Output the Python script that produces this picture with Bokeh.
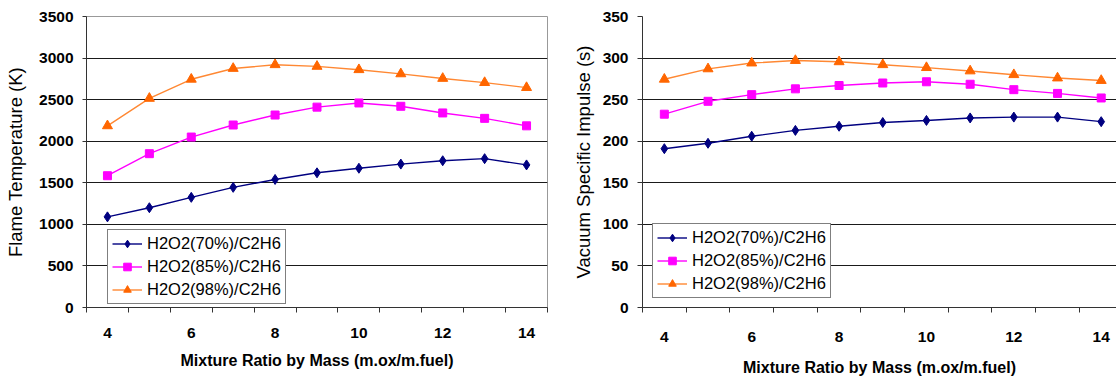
from bokeh.plotting import figure
from bokeh.layouts import row
from bokeh.models import FixedTicker, Range1d, Legend
from bokeh.embed import file_html
from bokeh.resources import INLINE

# ---- data ----
mixture_ratio = [4, 5, 6, 7, 8, 9, 10, 11, 12, 13, 14]
x_tick_labels = [4, 6, 8, 10, 12, 14]

series_names = ["H2O2(70%)/C2H6", "H2O2(85%)/C2H6", "H2O2(98%)/C2H6"]

flame_temp_70 = [1090, 1200, 1325, 1445, 1540, 1620, 1675, 1725, 1765, 1790, 1715]
flame_temp_85 = [1585, 1850, 2050, 2195, 2315, 2410, 2460, 2420, 2340, 2275, 2185]
flame_temp_98 = [2185, 2515, 2745, 2875, 2920, 2900, 2860, 2810, 2755, 2705, 2645]

isp_70 = [191, 197.5, 206, 213, 218, 222.5, 225, 228, 229, 229, 223.5]
isp_85 = [232.5, 248, 256, 263, 267, 270, 271.5, 268.5, 262, 257.5, 252]
isp_98 = [274.5, 287, 294, 297, 295.5, 292, 288.5, 284.5, 280, 276, 273]

temp_ticks = [0, 500, 1000, 1500, 2000, 2500, 3000, 3500]
isp_ticks = [0, 50, 100, 150, 200, 250, 300, 350]

FONT = "Liberation Sans"
styles = [
    dict(line="#000080", marker="diamond", mcolor="#000080", size=10),
    dict(line="#FF00FF", marker="square", mcolor="#FF00FF", size=8),
    dict(line="#FF8833", marker="triangle", mcolor="#FF6600", size=10),
]


def make_fig(width, height, borders, x_end, y_end, yticks, ylabel, series,
             xlabel_standoff, xtitle_standoff, ytick_out, ytitle_standoff,
             outline, legend_loc):
    bl, br, bt, bb = borders
    p = figure(width=width, height=height, output_backend="svg",
               toolbar_location=None,
               x_range=Range1d(3.5, x_end), y_range=Range1d(0, y_end),
               min_border_left=bl, min_border_right=br,
               min_border_top=bt, min_border_bottom=bb)
    p.background_fill_color = "white"
    p.border_fill_color = "white"
    p.outline_line_color = outline
    p.outline_line_width = 1

    # x axis: category-style ticks between points, labels every other point
    minor = [3.5 + i for i in range(12)]
    p.xaxis.ticker = FixedTicker(ticks=x_tick_labels, minor_ticks=minor)
    p.xaxis.major_tick_out = 0
    p.xaxis.major_tick_in = 0
    p.xaxis.minor_tick_out = 5
    p.xaxis.minor_tick_in = 0
    p.xaxis.minor_tick_line_color = "#333333"
    p.xaxis.major_label_standoff = xlabel_standoff
    p.xaxis.axis_label = "Mixture Ratio by Mass (m.ox/m.fuel)"
    p.xaxis.axis_label_standoff = xtitle_standoff
    p.xaxis.axis_label_text_font = FONT
    p.xaxis.axis_label_text_font_size = "16px"
    p.xaxis.axis_label_text_font_style = "bold"
    p.xaxis.axis_label_text_color = "black"

    p.yaxis.ticker = FixedTicker(ticks=yticks)
    p.yaxis.major_tick_out = ytick_out
    p.yaxis.major_tick_in = 0
    p.yaxis.minor_tick_out = 0
    p.yaxis.minor_tick_in = 0
    p.yaxis.major_label_standoff = 9
    p.yaxis.axis_label = ylabel
    p.yaxis.axis_label_standoff = ytitle_standoff
    p.yaxis.axis_label_text_font = FONT
    p.yaxis.axis_label_text_font_size = "18.5px"
    p.yaxis.axis_label_text_font_style = "normal"
    p.yaxis.axis_label_text_color = "black"

    for ax in (p.xaxis, p.yaxis):
        ax.axis_line_color = "#333333"
        ax.axis_line_width = 1
        ax.major_tick_line_color = "#333333"
        ax.major_label_text_font = FONT
        ax.major_label_text_font_size = "15.5px"
        ax.major_label_text_font_style = "bold"
        ax.major_label_text_color = "black"

    p.xgrid.grid_line_color = None
    p.ygrid.grid_line_color = "#1a1a1a"
    p.ygrid.grid_line_width = 1

    items = []
    for name, ys, st in zip(series_names, series, styles):
        r1 = p.line(mixture_ratio, ys, line_color=st["line"], line_width=1.4)
        r2 = p.scatter(mixture_ratio, ys, marker=st["marker"], size=st["size"],
                       fill_color=st["mcolor"], line_color=st["mcolor"])
        items.append((name, [r1, r2]))

    legend = Legend(items=items, location=legend_loc)
    legend.label_text_font = FONT
    legend.label_text_font_size = "16.5px"
    legend.label_text_color = "black"
    legend.border_line_color = "black"
    legend.border_line_width = 1
    legend.background_fill_color = "white"
    legend.background_fill_alpha = 1
    legend.padding = 4
    legend.spacing = 4
    legend.label_height = 19
    legend.glyph_height = 19
    legend.glyph_width = 30
    legend.label_standoff = 5
    legend.margin = 0
    p.add_layout(legend, "center")
    return p


p1 = make_fig(556, 378, (86, 9, 16, 69), 14.5, 3500, temp_ticks,
              "Flame Temperature (K)",
              [flame_temp_70, flame_temp_85, flame_temp_98],
              15, 11, 4, 10, "#999999", (21, 3))
p2 = make_fig(560, 378, (86, 0, 16, 69), 14.35, 350, isp_ticks,
              "Vacuum Specific Impulse (s)",
              [isp_70, isp_85, isp_98],
              19, 14, 5, 6, None, (10, 9))

layout = row(p1, p2)
open("out.html", "w").write(file_html(layout, INLINE))
